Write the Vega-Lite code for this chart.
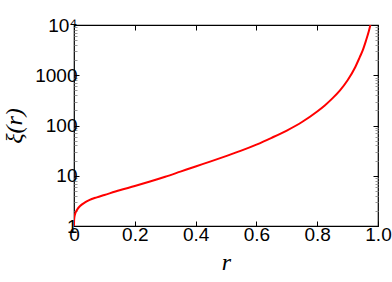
{
  "$schema": "https://vega.github.io/schema/vega-lite/v6.json",
  "autosize": "none",
  "padding": {"left": 74, "top": 25, "right": 14, "bottom": 56},
  "width": 304,
  "height": 201,
  "background": "white",
  "config": {
    "view": {"stroke": "black", "strokeWidth": 1.2},
    "axis": {"domain": false, "grid": false, "labelFont": "Liberation Sans", "labelFontSize": 19, "labelColor": "black", "labelFlush": false, "labelOverlap": false, "tickColor": "black", "titleColor": "black"}
  },
  "data": {"values": [
    {"r": 0, "xi": 1},
    {"r": 0.0002, "xi": 1.26},
    {"r": 0.001, "xi": 1.445},
    {"r": 0.003, "xi": 1.68},
    {"r": 0.0066, "xi": 1.93},
    {"r": 0.012, "xi": 2.19},
    {"r": 0.02, "xi": 2.5},
    {"r": 0.035, "xi": 2.92},
    {"r": 0.05, "xi": 3.27},
    {"r": 0.075, "xi": 3.72},
    {"r": 0.1, "xi": 4.14},
    {"r": 0.15, "xi": 5.13},
    {"r": 0.2, "xi": 6.24},
    {"r": 0.25, "xi": 7.67},
    {"r": 0.3, "xi": 9.55},
    {"r": 0.35, "xi": 12.08},
    {"r": 0.4, "xi": 15.31},
    {"r": 0.45, "xi": 19.28},
    {"r": 0.5, "xi": 24.55},
    {"r": 0.55, "xi": 31.62},
    {"r": 0.6, "xi": 41.69},
    {"r": 0.65, "xi": 56.89},
    {"r": 0.7, "xi": 79.43},
    {"r": 0.75, "xi": 117.5},
    {"r": 0.8, "xi": 190.5},
    {"r": 0.825, "xi": 251.2},
    {"r": 0.85, "xi": 346.7},
    {"r": 0.875, "xi": 501.2},
    {"r": 0.9, "xi": 794.3},
    {"r": 0.925, "xi": 1445},
    {"r": 0.94, "xi": 2291},
    {"r": 0.95, "xi": 3162},
    {"r": 0.96, "xi": 4786},
    {"r": 0.97, "xi": 7586},
    {"r": 0.975, "xi": 10000}
  ]},
  "layer": [
    {
      "mark": {"type": "line", "color": "#ff0000", "strokeWidth": 2, "interpolate": "monotone", "clip": true},
      "encoding": {
        "x": {"field": "r", "type": "quantitative",
          "scale": {"domain": [0, 1], "nice": false, "zero": false},
          "axis": {"orient": "bottom", "values": [0, 0.2, 0.4, 0.6, 0.8, 1], "labelExpr": "datum.value == 0 ? '0' : format(datum.value, '.1f')", "tickSize": -5, "labelPadding": 4, "title": "r", "titleFont": "Liberation Serif", "titleFontStyle": "italic", "titleFontWeight": "normal", "titleFontSize": 24, "titlePadding": 6}},
        "y": {"field": "xi", "type": "quantitative",
          "scale": {"type": "log", "domain": [1, 10000], "nice": false},
          "axis": {"orient": "left",
            "values": [1,2,3,4,5,6,7,8,9,10,20,30,40,50,60,70,80,90,100,200,300,400,500,600,700,800,900,1000,2000,3000,4000,5000,6000,7000,8000,9000,10000],
            "labelExpr": "datum.value == 10000 ? '10⁴' : datum.value == 1000 ? '1000' : datum.value == 100 ? '100' : datum.value == 10 ? '10' : datum.value == 1 ? '1' : ''",
            "tickSize": {"condition": {"test": "indexof([1,10,100,1000,10000], datum.value) >= 0", "value": -5}, "value": -3},
            "tickColor": {"condition": {"test": "indexof([1,10,100,1000,10000], datum.value) >= 0", "value": "black"}, "value": "#999999"},
            "labelPadding": 2,
            "title": "ξ(r)", "titleFont": "Liberation Serif", "titleFontStyle": "italic", "titleFontWeight": "normal", "titleFontSize": 24, "titlePadding": 8}}
      }
    },
    {
      "mark": {"type": "line", "opacity": 0},
      "encoding": {
        "x": {"field": "r", "type": "quantitative",
          "axis": {"orient": "top", "values": [0, 0.2, 0.4, 0.6, 0.8, 1], "labels": false, "tickSize": -5, "title": null}},
        "y": {"field": "xi", "type": "quantitative",
          "axis": {"orient": "right",
            "values": [1,2,3,4,5,6,7,8,9,10,20,30,40,50,60,70,80,90,100,200,300,400,500,600,700,800,900,1000,2000,3000,4000,5000,6000,7000,8000,9000,10000],
            "labels": false,
            "tickSize": {"condition": {"test": "indexof([1,10,100,1000,10000], datum.value) >= 0", "value": -5}, "value": -3},
            "tickColor": {"condition": {"test": "indexof([1,10,100,1000,10000], datum.value) >= 0", "value": "black"}, "value": "#999999"},
            "title": null}}
      }
    }
  ],
  "resolve": {"axis": {"x": "independent", "y": "independent"}}
}
